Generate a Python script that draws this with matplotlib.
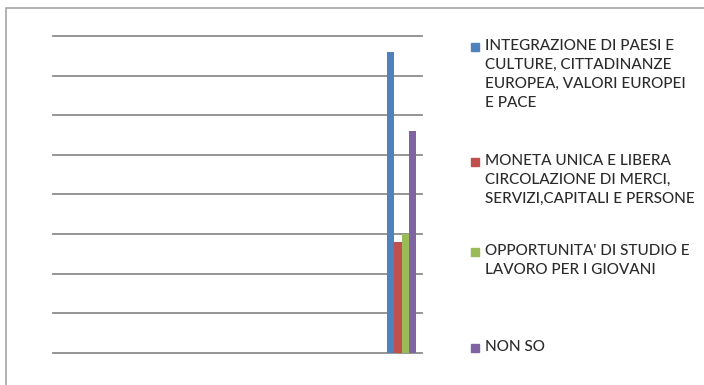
import matplotlib.pyplot as plt
from matplotlib.patches import Rectangle

plt.rcParams['font.family'] = ['Lato', 'DejaVu Sans']

etichette = ["INTEGRAZIONE DI PAESI E\nCULTURE, CITTADINANZE\nEUROPEA, VALORI EUROPEI\nE PACE",
             "MONETA UNICA E LIBERA\nCIRCOLAZIONE DI MERCI,\nSERVIZI,CAPITALI E PERSONE",
             "OPPORTUNITA' DI STUDIO E\nLAVORO PER I GIOVANI",
             "NON SO"]
valori = [76, 28, 30, 56]
colori = ['#4F81BD', '#C0504D', '#9BBB59', '#8064A2']
griglia = [0, 10, 20, 30, 40, 50, 60, 70, 80]

W, H = 704, 385
fig = plt.figure(figsize=(W / 100, H / 100), dpi=100)

# cornice dell'area grafico
fig.patches.append(Rectangle((6 / W, -0.1), 1.2, 1 - 8 / H + 0.1, transform=fig.transFigure,
                             fill=False, edgecolor='#A6A6A6', linewidth=1.2))

ax = fig.add_axes([53 / W, 1 - 353 / H, (422 - 53) / W, (353 - 36) / H])
larg = 0.2
for i, (v, c) in enumerate(zip(valori, colori)):
    ax.bar((i - 1.5) * larg, v, width=larg, color=c, zorder=3)

ax.set_xlim(-9.52, 0.556)
ax.set_ylim(0, 80)
ax.set_yticks(griglia)
ax.set_xticks([])
ax.tick_params(axis='y', length=0, labelleft=False)
ax.grid(axis='y', color='#8C8C8C', linewidth=1.3)
for l in ax.get_ygridlines():
    l.set_clip_on(False)
for s in ax.spines.values():
    s.set_visible(False)
ax.set_facecolor('none')

# legenda a destra
y_voci = [47, 162, 252, 348]
for lab, c, yv in zip(etichette, colori, y_voci):
    fig.patches.append(Rectangle((471 / W, 1 - (yv + 4) / H), 8 / W, 8 / H,
                                 transform=fig.transFigure, color=c))
    fig.text(485 / W, 1 - (yv - 8) / H, lab, fontsize=11, color='#2B2B2B',
             va='top', ha='left', linespacing=1.45, fontweight='medium')

plt.savefig('out.png', dpi=100)
